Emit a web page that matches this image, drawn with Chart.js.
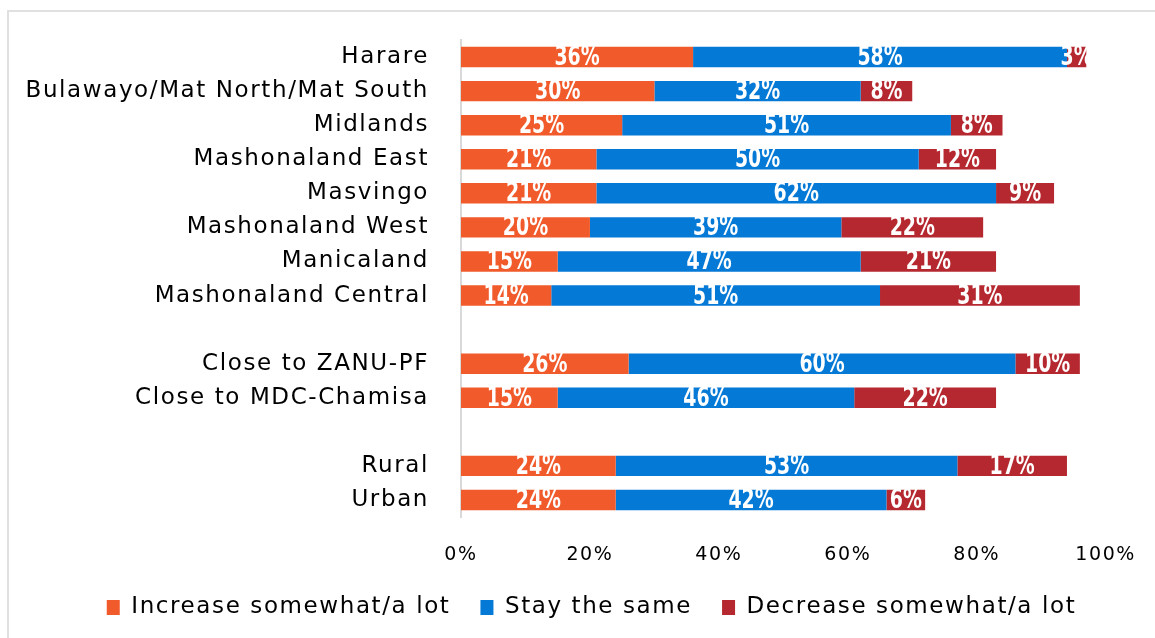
<!DOCTYPE html>
<html>
<head>
<meta charset="utf-8">
<script src="https://cdn.jsdelivr.net/npm/chart.js@4/dist/chart.umd.min.js"></script>
<style>
  html, body { margin: 0; padding: 0; background: #fff; overflow: hidden; }
  #wrap { width: 1155px; height: 638px; }
</style>
</head>
<body>
<div id="wrap"><canvas id="myChart" width="1155" height="638"></canvas></div>
<script>
const categories = ['Harare', 'Bulawayo/Mat North/Mat South', 'Midlands', 'Mashonaland East', 'Masvingo',
  'Mashonaland West', 'Manicaland', 'Mashonaland Central', '', 'Close to ZANU-PF', 'Close to MDC-Chamisa',
  '', 'Rural', 'Urban'];
const increase = [36, 30, 25, 21, 21, 20, 15, 14, null, 26, 15, null, 24, 24];
const same = [58, 32, 51, 50, 62, 39, 47, 51, null, 60, 46, null, 53, 42];
const decrease = [3, 8, 8, 12, 9, 22, 21, 31, null, 10, 22, null, 17, 6];
const xTicks = [0, 20, 40, 60, 80, 100];

const labelFont = '"DejaVu Sans", sans-serif';
const spacing = '1.6px';

// wider lettering, closer to the original's Century Gothic
const letters = {
  id: 'letters',
  beforeUpdate(chart) { chart.ctx.letterSpacing = spacing; },
  beforeDraw(chart) { chart.ctx.letterSpacing = spacing; }
};

// legend sits a bit right of the canvas centre in the original
const legendShift = {
  id: 'legendShift',
  afterLayout(chart) {
    chart.legend.left += 38;
    chart.legend.right += 38;
  }
};

// white value labels inside each bar segment (bold, squeezed)
const barLabels = {
  id: 'barLabels',
  afterDatasetsDraw(chart) {
    const c = chart.ctx;
    c.save();
    c.letterSpacing = '0px';
    c.fillStyle = '#fff';
    c.textAlign = 'center';
    c.textBaseline = 'middle';
    c.font = 'bold 27px "DejaVu Sans", sans-serif';
    chart.data.datasets.forEach((ds, i) => {
      chart.getDatasetMeta(i).data.forEach((bar, j) => {
        const v = ds.data[j];
        if (v == null) return;
        c.save();
        c.translate((bar.x + bar.base) / 2, bar.y + 1);
        c.scale(0.7, 1);
        c.fillText(v + '%', 0, 0);
        c.restore();
      });
    });
    c.restore();
  }
};

// light frame round the picture
const frame = {
  id: 'frame',
  beforeDraw(chart) {
    const c = chart.ctx;
    c.save();
    c.strokeStyle = '#e0e0e0';
    c.lineWidth = 2;
    c.strokeRect(8, 11, chart.width + 40, chart.height + 40);
    c.restore();
  }
};

new Chart(document.getElementById('myChart'), {
  type: 'bar',
  data: {
    labels: categories,
    datasets: [
      { label: 'Increase somewhat/a lot', data: increase, backgroundColor: '#F15A2B' },
      { label: 'Stay the same', data: same, backgroundColor: '#0479D6' },
      { label: 'Decrease somewhat/a lot', data: decrease, backgroundColor: '#B5282F' }
    ]
  },
  options: {
    indexAxis: 'y',
    responsive: false,
    animation: false,
    devicePixelRatio: 1,
    categoryPercentage: 1,
    barPercentage: 0.6,
    layout: { padding: { top: 40, right: 48, bottom: 9, left: 0 } },
    scales: {
      x: {
        stacked: true,
        min: 0,
        max: 100,
        afterBuildTicks(scale) { scale.ticks = xTicks.map(v => ({ value: v })); },
        afterFit(scale) { scale.height = 49; },
        grid: { display: false },
        border: { display: false },
        ticks: {
          padding: 19,
          color: '#000',
          font: { family: labelFont, size: 19 },
          callback: v => v + '%'
        }
      },
      y: {
        stacked: true,
        afterFit(scale) { scale.width = 461; },
        grid: { display: false },
        border: { display: true, color: '#d9d9d9', width: 2 },
        ticks: {
          padding: 24,
          color: '#000',
          autoSkip: false,
          font: { family: labelFont, size: 23 }
        }
      }
    },
    plugins: {
      legend: {
        position: 'bottom',
        labels: {
          boxWidth: 13,
          boxHeight: 15,
          padding: 30,
          color: '#000',
          font: { family: labelFont, size: 23 }
        }
      },
      tooltip: { enabled: false }
    }
  },
  plugins: [letters, legendShift, barLabels, frame]
});
</script>
</body>
</html>
